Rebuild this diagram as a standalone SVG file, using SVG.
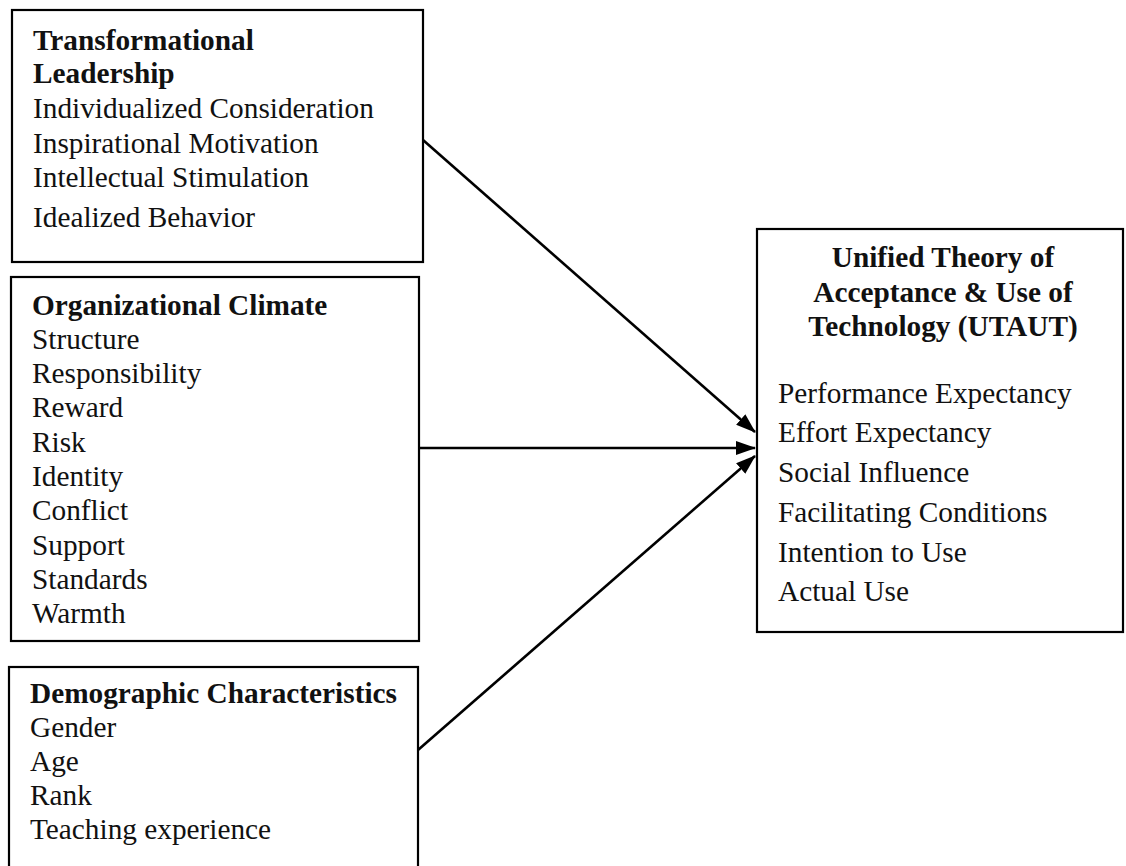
<svg xmlns="http://www.w3.org/2000/svg" width="1126" height="866" viewBox="0 0 1126 866">
<style>
.box{fill:none;stroke:#000;stroke-width:2.2}
text{font-family:"Liberation Serif","Times New Roman",serif;font-size:29.3px;fill:#111}
.b{font-weight:bold}
.c{text-anchor:middle}
.con{stroke:#000;stroke-width:2.6;fill:none}
</style>
<defs>
<marker id="ah" markerWidth="20" markerHeight="14" refX="19" refY="7" orient="auto" markerUnits="userSpaceOnUse">
<path d="M0,0 L20,7 L0,14 Z" fill="#000"/>
</marker>
</defs>
<rect width="1126" height="866" fill="#fff"/>
<g id="transformational">
<rect class="box" x="12" y="10" width="411" height="252"/>
<text x="33" y="50" class="b">Transformational</text>
<text x="33" y="83" class="b">Leadership</text>
<text x="33" y="118">Individualized Consideration</text>
<text x="33" y="153">Inspirational Motivation</text>
<text x="33" y="187">Intellectual Stimulation</text>
<text x="33" y="227">Idealized Behavior</text>
</g>
<g id="climate">
<rect class="box" x="11" y="277" width="408" height="364"/>
<text x="32" y="315" class="b">Organizational Climate</text>
<text x="32" y="349">Structure</text>
<text x="32" y="383">Responsibility</text>
<text x="32" y="417">Reward</text>
<text x="32" y="452">Risk</text>
<text x="32" y="486">Identity</text>
<text x="32" y="520">Conflict</text>
<text x="32" y="555">Support</text>
<text x="32" y="589">Standards</text>
<text x="32" y="623">Warmth</text>
</g>
<g id="demographic">
<rect class="box" x="9" y="667" width="409" height="220"/>
<text x="30" y="703" class="b">Demographic Characteristics</text>
<text x="30" y="737">Gender</text>
<text x="30" y="771">Age</text>
<text x="30" y="805">Rank</text>
<text x="30" y="839">Teaching experience</text>
</g>
<g id="utaut">
<rect class="box" x="757" y="229" width="366" height="403"/>
<text x="943" y="267" class="b c">Unified Theory of</text>
<text x="943" y="302" class="b c">Acceptance &amp; Use of</text>
<text x="943" y="336" class="b c">Technology (UTAUT)</text>
<text x="778" y="403">Performance Expectancy</text>
<text x="778" y="442">Effort Expectancy</text>
<text x="778" y="482">Social Influence</text>
<text x="778" y="522">Facilitating Conditions</text>
<text x="778" y="562">Intention to Use</text>
<text x="778" y="601">Actual Use</text>
</g>
<g id="connectors">
<line class="con" x1="423" y1="140" x2="755" y2="432" marker-end="url(#ah)"/>
<line class="con" x1="419" y1="448" x2="755" y2="448" marker-end="url(#ah)"/>
<line class="con" x1="418" y1="750" x2="755" y2="456" marker-end="url(#ah)"/>
</g>
</svg>
